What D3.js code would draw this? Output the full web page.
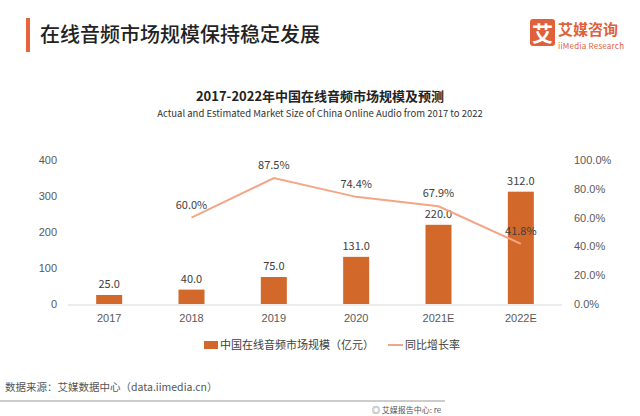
<!DOCTYPE html>
<html><head><meta charset="utf-8">
<script src="https://cdn.jsdelivr.net/npm/d3@7"></script>
<style>
body{margin:0;background:#fff;}
svg{display:block;font-family:"Noto Sans CJK SC","Noto Sans",sans-serif;}
</style></head>
<body><svg id="c" width="640" height="416"></svg>
<script>
const categories = ["2017","2018","2019","2020","2021E","2022E"];
const marketSize = [25.0, 40.0, 75.0, 131.0, 220.0, 312.0];
const growthRate = [null, 60.0, 87.5, 74.4, 67.9, 41.8];
const leftTicks = [0,100,200,300,400];
const rightTicks = [0,20,40,60,80,100];

const svg = d3.select("#c");
const barColor = "#D2692A", lineColor = "#F4A585";

// header
svg.append("rect").attr("x",26).attr("y",18).attr("width",4).attr("height",34).attr("fill","#E8643C");
svg.append("text").attr("x",40).attr("y",42).attr("font-size",20).attr("font-weight",500).attr("fill","#222").text("在线音频市场规模保持稳定发展");
// logo
svg.append("rect").attr("x",530).attr("y",19).attr("width",25).attr("height",27).attr("rx",3).attr("fill","#E0603C");
svg.append("text").attr("x",542.5).attr("y",41).attr("text-anchor","middle").attr("font-size",21).attr("font-weight",700).attr("fill","#fff").text("艾");
svg.append("text").attr("x",558).attr("y",35).attr("font-size",15).attr("font-weight",700).attr("fill","#E0603C").text("艾媒咨询");
svg.append("text").attr("x",558).attr("y",49).attr("font-size",8).attr("fill","#E0603C").attr("textLength",66).text("iiMedia Research");

// chart titles
svg.append("text").attr("x",320).attr("y",101).attr("text-anchor","middle").attr("font-size",13).attr("font-weight",700).attr("fill","#222").text("2017-2022年中国在线音频市场规模及预测");
svg.append("text").attr("x",320).attr("y",117).attr("text-anchor","middle").attr("font-size",9.5).attr("fill","#333").text("Actual and Estimated Market Size of China Online Audio from 2017 to 2022");

const x = d3.scaleBand().domain(categories).range([68,562]);
const yL = d3.scaleLinear().domain([0,400]).range([304,160]);
const yR = d3.scaleLinear().domain([0,100]).range([304,160]);

// left axis
const gl = svg.append("g").attr("transform","translate(57,0)")
  .call(d3.axisLeft(yL).tickValues(leftTicks).tickSize(0).tickPadding(0));
gl.select(".domain").remove();
gl.selectAll("text").attr("font-size",11).attr("fill","#595959").attr("font-family","inherit");
// right axis
const gr = svg.append("g").attr("transform","translate(574,0)")
  .call(d3.axisRight(yR).tickValues(rightTicks).tickSize(0).tickPadding(0).tickFormat(d=>d.toFixed(1)+"%"));
gr.select(".domain").remove();
gr.selectAll("text").attr("font-size",11).attr("fill","#595959").attr("font-family","inherit");

// baseline
svg.append("line").attr("x1",68).attr("x2",562).attr("y1",305).attr("y2",305).attr("stroke","#d9d9d9").attr("stroke-width",1);

// x axis
const gx = svg.append("g").attr("transform","translate(0,312)")
  .call(d3.axisBottom(x).tickSize(0).tickPadding(0));
gx.select(".domain").remove();
gx.selectAll("text").attr("font-size",11).attr("fill","#595959").attr("font-family","inherit").attr("dy","0.9em");

// bars
const bw = 26;
svg.selectAll(".bar").data(marketSize).join("rect")
  .attr("x",(d,i)=>x(categories[i])+x.bandwidth()/2-bw/2)
  .attr("y",d=>yL(d)).attr("width",bw).attr("height",d=>yL(0)-yL(d)).attr("fill",barColor);
svg.selectAll(".blab").data(marketSize).join("text")
  .attr("x",(d,i)=>x(categories[i])+x.bandwidth()/2)
  .attr("y",d=>yL(d)-7).attr("text-anchor","middle").attr("font-size",11).attr("fill","#404040")
  .text(d=>d.toFixed(1));

// line
const pts = growthRate.map((v,i)=>({v,c:categories[i]})).filter(p=>p.v!=null);
svg.append("path").datum(pts)
  .attr("d",d3.line().x(p=>x(p.c)+x.bandwidth()/2).y(p=>yR(p.v)))
  .attr("fill","none").attr("stroke",lineColor).attr("stroke-width",2);
svg.selectAll(".llab").data(pts).join("text")
  .attr("x",p=>x(p.c)+x.bandwidth()/2)
  .attr("y",p=>yR(p.v)-9).attr("text-anchor","middle").attr("font-size",11).attr("fill","#404040")
  .text(p=>p.v.toFixed(1)+"%");

// legend
svg.append("rect").attr("x",204).attr("y",341).attr("width",14).attr("height",8).attr("fill",barColor);
svg.append("text").attr("x",220).attr("y",349).attr("font-size",11).attr("fill","#404040").text("中国在线音频市场规模（亿元）");
svg.append("line").attr("x1",388).attr("x2",403).attr("y1",345).attr("y2",345).attr("stroke",lineColor).attr("stroke-width",2);
svg.append("text").attr("x",405).attr("y",349).attr("font-size",11).attr("fill","#404040").text("同比增长率");

// footer
svg.append("text").attr("x",5).attr("y",391).attr("font-size",10.5).attr("fill","#555").text("数据来源：艾媒数据中心（data.iimedia.cn）");
svg.append("line").attr("x1",0).attr("x2",445).attr("y1",401).attr("y2",401).attr("stroke","#999").attr("stroke-width",1);
svg.append("text").attr("x",372).attr("y",413).attr("font-size",8).attr("fill","#555").text("◎ 艾媒报告中心: re");
</script></body></html>
